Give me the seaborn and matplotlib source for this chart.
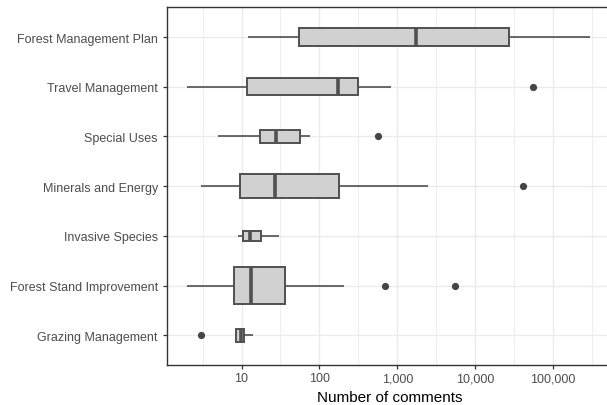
import numpy as np
import pandas as pd
import seaborn as sns
import matplotlib.pyplot as plt
from matplotlib.ticker import FixedLocator, FuncFormatter, NullFormatter

# Values (number of comments, log scale)
categories = ['Forest Management Plan', 'Travel Management', 'Special Uses',
              'Minerals and Energy', 'Invasive Species',
              'Forest Stand Improvement', 'Grazing Management']
whisker_low = [12, 2.0, 5.0, 3.0, 9.1, 2.0, 8.2]
q1 = [54, 11.7, 17.4, 9.5, 10.4, 7.9, 8.5]
median = [1740, 172, 28, 27, 12.8, 13.1, 9.8]
q3 = [27000, 316, 57, 177, 18, 36.5, 10.8]
whisker_high = [295000, 838, 76, 2450, 30.5, 209, 13.9]

outlier_cat = ['Travel Management', 'Special Uses', 'Minerals and Energy',
               'Forest Stand Improvement', 'Forest Stand Improvement',
               'Grazing Management']
outlier_val = [55200, 565, 40800, 695, 5560, 3.0]

x_ticks = [10, 100, 1000, 10000, 100000]

# box thickness (varwidth look), style only
box_widths = [0.36, 0.34, 0.28, 0.48, 0.20, 0.75, 0.255]

# Long table: the five summary values per category
rows = []
for i, cat in enumerate(categories):
    for v in [whisker_low[i], q1[i], median[i], q3[i], whisker_high[i]]:
        rows.append({'category': cat, 'comments': v})
df = pd.DataFrame(rows)
df_out = pd.DataFrame({'category': outlier_cat, 'comments': outlier_val})

sns.set_theme(style='white')
plt.rcParams['font.family'] = ['Liberation Sans', 'DejaVu Sans']

fig = plt.figure(figsize=(6.07, 4.06), dpi=100)
ax = fig.add_axes([166.7 / 607, 40 / 406, (613 - 166.7) / 607, (366 - 8.3) / 406])

edge = '#505050'
for cat, w in zip(categories, box_widths):
    sns.boxplot(data=df[df['category'] == cat], x='comments', y='category',
                order=categories, width=w, log_scale=True, color='#D1D1D1',
                linecolor=edge, linewidth=1.2, saturation=1, showfliers=False,
                showcaps=False,
                boxprops={'linewidth': 1.4},
                medianprops={'linewidth': 2.6, 'color': edge},
                ax=ax)

sns.stripplot(data=df_out, x='comments', y='category', order=categories,
              jitter=False, color='#454545', size=5.2, log_scale=True, ax=ax)

# axes limits
lo_log = 1 + (166.7 - 241.5) / 77.9
hi_log = lo_log + (613 - 166.7) / 77.9
ax.set_xlim(10 ** lo_log, 10 ** hi_log)
ax.set_ylim(6.6, -0.6)

ax.xaxis.set_major_locator(FixedLocator(x_ticks))
ax.xaxis.set_major_formatter(FuncFormatter(lambda v, p: f'{v:,.0f}'))
minors = [10 ** (k + 0.5) for k in range(0, 6)]
ax.xaxis.set_minor_locator(FixedLocator(minors))
ax.xaxis.set_minor_formatter(NullFormatter())

ax.set_axisbelow(True)
ax.grid(True, which='major', axis='both', color='#EBEBEB', linewidth=1.0)
ax.grid(True, which='minor', axis='x', color='#EFEFEF', linewidth=0.8)

for s in ax.spines.values():
    s.set_color('#333333')
    s.set_linewidth(1.0)

ax.tick_params(axis='both', which='major', length=2.8, width=0.9,
               color='#333333', labelcolor='#4D4D4D', labelsize=9, pad=2.5,
               bottom=True, left=True)
ax.tick_params(axis='y', which='major', pad=3.5)
ax.tick_params(axis='x', which='minor', length=0)

ax.set_xlabel('Number of comments', fontsize=11, color='black', labelpad=4)
ax.set_ylabel('')

fig.savefig('out.png', dpi=100)
